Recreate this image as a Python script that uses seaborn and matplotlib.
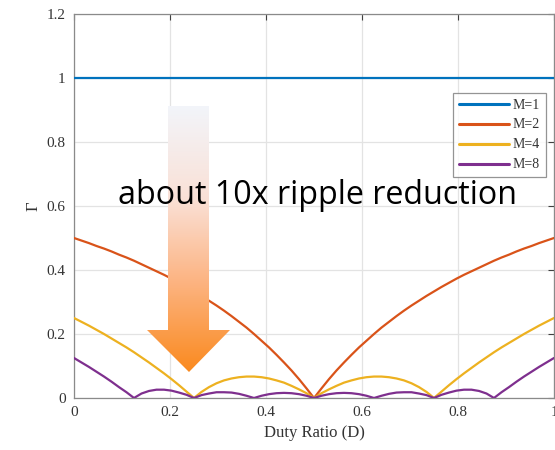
import numpy as np
import pandas as pd
import matplotlib
matplotlib.use("Agg")
import matplotlib.pyplot as plt
from matplotlib.patches import Polygon
from matplotlib.colors import LinearSegmentedColormap
import seaborn as sns

# Duty ratio samples (steps of 1/64)
duty = [i / 64 for i in range(65)]

# Normalised ripple factor for M interleaved phases
gamma_m1 = [1.0] * 65
gamma_m2 = [0.500, 0.492, 0.484, 0.475, 0.467, 0.458, 0.448, 0.439, 0.429,
            0.418, 0.407, 0.396, 0.385, 0.373, 0.360, 0.347, 0.333, 0.319,
            0.304, 0.289, 0.273, 0.256, 0.238, 0.220, 0.200, 0.179, 0.158,
            0.135, 0.111, 0.086, 0.059, 0.030, 0.000,
            0.030, 0.059, 0.086, 0.111, 0.135, 0.158, 0.179, 0.200, 0.220,
            0.238, 0.256, 0.273, 0.289, 0.304, 0.319, 0.333, 0.347, 0.360,
            0.373, 0.385, 0.396, 0.407, 0.418, 0.429, 0.439, 0.448, 0.458,
            0.467, 0.475, 0.484, 0.492, 0.500]
gamma_m4 = [0.250, 0.238, 0.226, 0.213, 0.200, 0.186, 0.172, 0.158, 0.143,
            0.127, 0.111, 0.094, 0.077, 0.059, 0.040, 0.020, 0.000, 0.019,
            0.034, 0.046, 0.055, 0.061, 0.065, 0.067, 0.067, 0.065, 0.061,
            0.055, 0.048, 0.038, 0.027, 0.015, 0.000,
            0.015, 0.027, 0.038, 0.048, 0.055, 0.061, 0.065, 0.067, 0.067,
            0.065, 0.061, 0.055, 0.046, 0.034, 0.019, 0.000, 0.020, 0.040,
            0.059, 0.077, 0.094, 0.111, 0.127, 0.143, 0.158, 0.172, 0.186,
            0.200, 0.213, 0.226, 0.238, 0.250]
gamma_m8 = [0.125, 0.111, 0.097, 0.082, 0.067, 0.051, 0.034, 0.018, 0.000,
            0.014, 0.022, 0.026, 0.026, 0.023, 0.017, 0.010, 0.000, 0.009,
            0.014, 0.018, 0.018, 0.017, 0.013, 0.007, 0.000, 0.007, 0.012,
            0.015, 0.016, 0.015, 0.012, 0.007, 0.000,
            0.007, 0.012, 0.015, 0.016, 0.015, 0.012, 0.007, 0.000, 0.007,
            0.013, 0.017, 0.018, 0.018, 0.014, 0.009, 0.000, 0.010, 0.017,
            0.023, 0.026, 0.026, 0.022, 0.014, 0.000, 0.018, 0.034, 0.051,
            0.067, 0.082, 0.097, 0.111, 0.125]

series_labels = ["M=1", "M=2", "M=4", "M=8"]
series_values = [gamma_m1, gamma_m2, gamma_m4, gamma_m8]
colors = ["#0072BD", "#D95319", "#EDB120", "#7E2F8E"]

x_ticks = [0, 0.2, 0.4, 0.6, 0.8, 1]
x_tick_labels = ["0", "0.2", "0.4", "0.6", "0.8", "1"]
y_ticks = [0, 0.2, 0.4, 0.6, 0.8, 1, 1.2]
y_tick_labels = ["0", "0.2", "0.4", "0.6", "0.8", "1", "1.2"]

df = pd.concat(
    [pd.DataFrame({"D": duty, "G": vals, "M": lab})
     for lab, vals in zip(series_labels, series_values)],
    ignore_index=True,
)

sns.set_style("white")
plt.rcParams["font.family"] = ["Liberation Serif", "DejaVu Serif"]

W, H = 555, 450
fig = plt.figure(figsize=(W / 100, H / 100), dpi=100)
ax = fig.add_axes([74 / W, 1 - 398 / H, (554 - 74) / W, (398 - 14) / H])

sns.lineplot(data=df, x="D", y="G", hue="M", palette=colors, ax=ax,
             linewidth=1.6, legend=False, sort=False, zorder=3)

ax.set_xlim(0, 1)
ax.set_ylim(0, 1.2)
ax.set_xticks(x_ticks)
ax.set_xticklabels(x_tick_labels)
ax.set_yticks(y_ticks)
ax.set_yticklabels(y_tick_labels)
ax.grid(True, color="#e3e3e3", linewidth=0.9, zorder=0)
ax.tick_params(direction="in", length=4, width=0.8, colors="#404040",
               labelsize=11, top=True, right=True, pad=6)
for lbl in ax.get_xticklabels() + ax.get_yticklabels():
    lbl.set_color("#333333")
for s in ax.spines.values():
    s.set_color("#8a8a8a")
    s.set_linewidth(0.9)

ax.set_xlabel("Duty Ratio (D)", fontsize=12, color="#333333", labelpad=4)
ax.set_ylabel("Γ", fontsize=12, color="#333333", labelpad=4)

handles = [plt.Line2D([], [], color=c, linewidth=2.2) for c in colors]
leg = ax.legend(handles, series_labels, loc="upper left",
                bbox_to_anchor=(453 / W, 1 - 93 / H),
                bbox_transform=fig.transFigure,
                fontsize=10, frameon=True, fancybox=False,
                handlelength=3.6, handletextpad=0.3, labelspacing=0.5,
                borderpad=0.4, borderaxespad=0)
leg.get_frame().set_edgecolor("#7a7a7a")
leg.get_frame().set_linewidth(0.9)
for t in leg.get_texts():
    t.set_color("#333333")

# Overlay in pixel coordinates for the callout arrow and text
ov = fig.add_axes([0, 0, 1, 1])
ov.set_xlim(0, W)
ov.set_ylim(H, 0)
ov.axis("off")

arrow_pts = [(168, 106), (209, 106), (209, 330), (230, 330),
             (189, 372), (147, 330), (168, 330)]
poly = Polygon(arrow_pts, closed=True, facecolor="none", edgecolor="none")
ov.add_patch(poly)
grad_cmap = LinearSegmentedColormap.from_list(
    "callout",
    [(0.0, (0.95, 0.96, 0.98)), (0.35, (0.98, 0.88, 0.84)),
     (0.65, (0.99, 0.71, 0.52)), (1.0, (0.98, 0.54, 0.12))])
grad = np.linspace(0, 1, 256).reshape(-1, 1)
img = ov.imshow(grad, cmap=grad_cmap, aspect="auto",
                extent=(147, 230, 372, 106), origin="upper", zorder=4)
img.set_clip_path(poly)

ov.text(318, 195, "about 10x ripple reduction", fontsize=23.2,
        family=["Open Sans", "DejaVu Sans"], color="black",
        ha="center", va="center", zorder=5)
ov.set_xlim(0, W)
ov.set_ylim(H, 0)

fig.savefig("out.png", dpi=100)
